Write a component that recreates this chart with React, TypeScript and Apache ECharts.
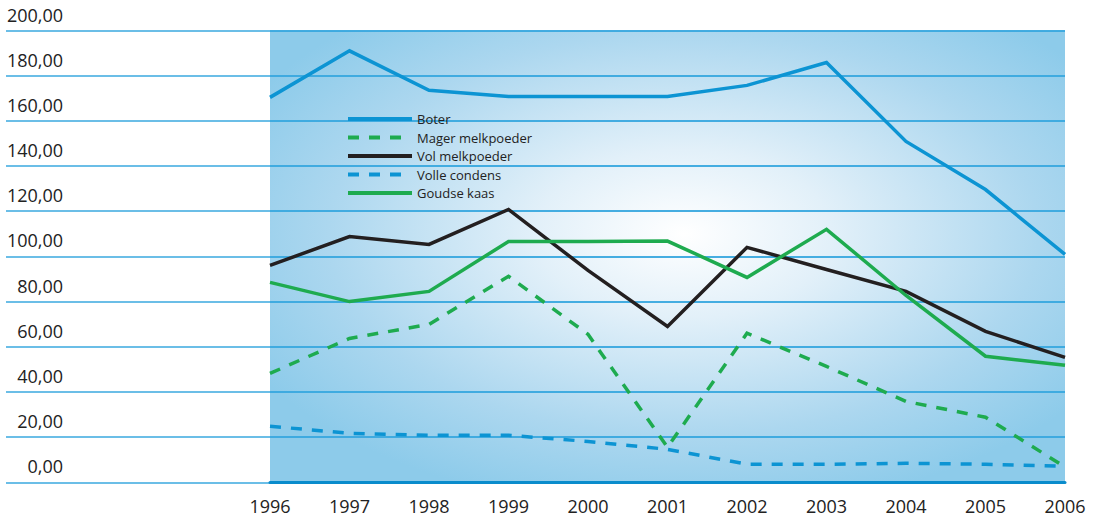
import React, { useEffect, useRef } from "react";
import * as echarts from "echarts";

const years = ["1996", "1997", "1998", "1999", "2000", "2001", "2002", "2003", "2004", "2005", "2006"];
const boter = [170.4, 191, 173.5, 170.8, 170.8, 170.8, 175.7, 185.8, 150.9, 129.6, 100.9];
const magerMelkpoeder = [48.2, 63.7, 69.9, 91.2, 65.5, 15.5, 66, 51.3, 35.8, 28.8, 6.8];
const volMelkpoeder = [96, 108.8, 105.3, 120.8, 93.8, 69, 104, 94.2, 84.5, 66.8, 55.3];
const volleCondens = [24.8, 21.7, 20.8, 20.8, 18.1, 14.6, 8, 8, 8.4, 8, 7.1];
const goudseKaas = [88.5, 80, 84.5, 106.6, 106.6, 106.8, 90.7, 112, 82.7, 55.8, 51.8];
const yTicks = [0, 20, 40, 60, 80, 100, 120, 140, 160, 180, 200];

const FONT = "'Open Sans', 'Noto Sans', sans-serif";
const BLUE = "#0c94d3";
const GREEN = "#1eab4f";
const BLACK = "#231f20";

const SOLID_ICON = "path://M0,-5M64,9M0,0h64v4h-64z";
const DASH_ICON = "path://M0,-5M64,9M0,0h11v4h-11zM21,0h11v4h-11zM42,0h11v4h-11z";

export default function App() {
  const ref = useRef<HTMLDivElement>(null);
  useEffect(() => {
    document.body.style.margin = "0";
    const chart = echarts.init(ref.current!, undefined, { renderer: "svg" });
    const dash = [11, 10];
    const line = (name: string, data: number[], color: string, dashed: boolean) => ({
      name,
      type: "line",
      xAxisIndex: 1,
      yAxisIndex: 1,
      data,
      symbol: "none",
      showSymbol: false,
      lineStyle: { color, width: 3.5, type: dashed ? dash : "solid", cap: "butt", join: "miter" },
      itemStyle: { color },
      z: 5,
    });
    const names = ["Boter", "Mager melkpoeder", "Vol melkpoeder", "Volle condens", "Goudse kaas"];
    const colors = [BLUE, GREEN, BLACK, BLUE, GREEN];
    const dashedFlags = [false, true, false, true, false];
    chart.setOption({
      animation: false,
      backgroundColor: "#ffffff",
      textStyle: { fontFamily: FONT },
      grid: [
        { left: 6, right: 35, top: 30.5, bottom: 35.7, containLabel: false },
        {
          left: 270,
          right: 35,
          top: 30.5,
          bottom: 35.7,
          show: true,
          borderWidth: 0,
          backgroundColor: new echarts.graphic.RadialGradient(0.52, 0.45, 0.62, [
            { offset: 0, color: "#ffffff" },
            { offset: 0.3, color: "#e2f0f9" },
            { offset: 0.72, color: "#acd7ef" },
            { offset: 1, color: "#8dcbea" },
          ]),
        },
      ],
      xAxis: [
        { gridIndex: 0, type: "category", data: years, show: false },
        {
          gridIndex: 1,
          type: "category",
          data: years,
          boundaryGap: false,
          axisLine: { show: true, lineStyle: { color: "#0a8ccc", width: 3 } },
          axisTick: { show: false },
          splitLine: { show: false },
          axisLabel: { color: "#222222", fontSize: 18, fontFamily: FONT, margin: 15 },
        },
      ],
      yAxis: [
        {
          gridIndex: 0,
          type: "value",
          min: 0,
          max: 200,
          interval: 20,
          axisLine: { show: false },
          axisTick: { show: false },
          splitLine: { show: true, lineStyle: { color: "#3aa8df", width: 1.5 } },
          axisLabel: {
            inside: true,
            align: "right",
            verticalAlign: "bottom",
            margin: 57,
            padding: [0, 0, 7, 0],
            color: "#222222",
            fontSize: 18,
            fontFamily: FONT,
            formatter: (v: number) => (yTicks.includes(v) ? v.toFixed(2).replace(".", ",") : ""),
          },
        },
        {
          gridIndex: 1,
          type: "value",
          min: 0,
          max: 200,
          interval: 20,
          axisLine: { show: false },
          axisTick: { show: false },
          axisLabel: { show: false },
          splitLine: { show: true, lineStyle: { color: "#3aa8df", width: 1.5 } },
        },
      ],
      legend: {
        orient: "vertical",
        left: 343,
        top: 107,
        itemWidth: 64,
        itemHeight: 14,
        itemGap: 4.5,
        textStyle: {
          color: "#222222",
          fontSize: 13,
          lineHeight: 12,
          fontFamily: FONT,
          padding: [2, 0, 0, 0],
        },
        data: names.map((n, i) => ({
          name: n,
          icon: dashedFlags[i] ? DASH_ICON : SOLID_ICON,
          itemStyle: { color: colors[i], borderWidth: 0 },
        })),
      },
      series: [
        line("Boter", boter, BLUE, false),
        line("Mager melkpoeder", magerMelkpoeder, GREEN, true),
        line("Vol melkpoeder", volMelkpoeder, BLACK, false),
        line("Volle condens", volleCondens, BLUE, true),
        line("Goudse kaas", goudseKaas, GREEN, false),
      ],
    });
    return () => chart.dispose();
  }, []);
  return (
    <div
      ref={ref}
      style={{ position: "absolute", left: 0, top: 0, width: 1100, height: 518 }}
    />
  );
}
